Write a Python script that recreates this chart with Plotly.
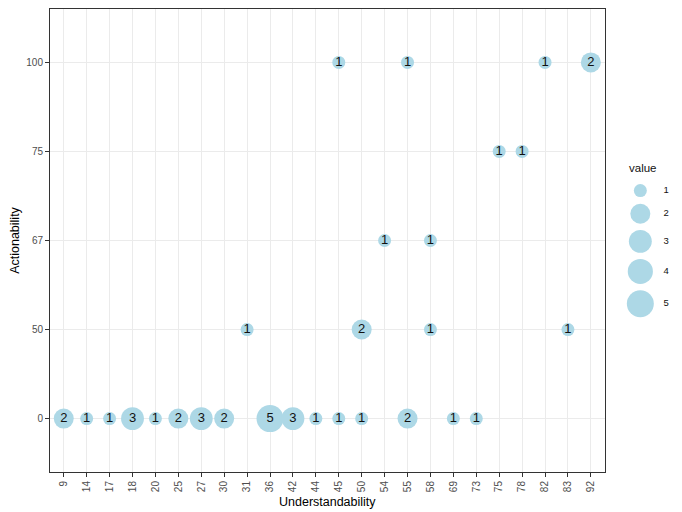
import math
import plotly.graph_objects as go

# ---- data ----
x_categories = ["9", "14", "17", "18", "20", "25", "27", "30", "31", "36", "42", "44",
                "45", "50", "54", "55", "58", "69", "73", "75", "78", "82", "83", "92"]
y_categories = ["0", "50", "67", "75", "100"]

understandability = ["9", "14", "17", "18", "20", "25", "27", "30", "36", "42", "44", "45",
                     "50", "55", "69", "73",
                     "31", "50", "58", "83",
                     "54", "58",
                     "75", "78",
                     "45", "55", "82", "92"]
actionability = ["0"] * 16 + ["50"] * 4 + ["67"] * 2 + ["75"] * 2 + ["100"] * 4
counts = [2, 1, 1, 3, 1, 2, 3, 2, 5, 3, 1, 1, 1, 2, 1, 1,
          1, 2, 1, 1,
          1, 1,
          1, 1,
          1, 1, 1, 2]

legend_values = [1, 2, 3, 4, 5]

# ---- styling ----
OFF = 8                      # page body margin
W, H = 682 - OFF, 512 - OFF
ML, MR, MT, MB = 45 - OFF, 0, 0, 40
plot_w = W - ML - MR
panel_right = 604 - OFF
main_dom_end = (panel_right - ML) / plot_w
leg_dom_start = main_dom_end + 0.005

BUBBLE = "#ADD8E6"
FONT = "Liberation Sans, Arial, Helvetica, sans-serif"
vmin, vmax = min(legend_values), max(legend_values)


def diam(v):
    return 13 + 14 * math.sqrt((v - vmin) / (vmax - vmin))


fig = go.Figure()
fig.add_trace(go.Scatter(
    x=understandability, y=actionability, mode="markers+text",
    text=[str(c) for c in counts],
    textfont=dict(family=FONT, size=13, color="#111111"),
    textposition="middle center",
    marker=dict(size=[diam(c) for c in counts], color=BUBBLE, line=dict(width=0), opacity=1),
    opacity=1,
    cliponaxis=False, showlegend=False, hoverinfo="skip",
))

# ---- legend drawn on a page-pixel-scaled auxiliary axis ----
x2_left = OFF + ML + leg_dom_start * plot_w
x2_right = OFF + ML + plot_w
key_x = 640
label_x = 666
title_y = 167
ys = []
y = 190
for i, v in enumerate(legend_values):
    if i > 0:
        y += (max(diam(legend_values[i - 1]), 14) + max(diam(v), 14)) / 2 + 6.2
    ys.append(y)

fig.add_trace(go.Scatter(
    x=[key_x] * len(legend_values), y=ys, xaxis="x2", yaxis="y2", mode="markers",
    marker=dict(size=[diam(v) for v in legend_values], color=BUBBLE, line=dict(width=0),
                opacity=1),
    opacity=1,
    cliponaxis=False, showlegend=False, hoverinfo="skip",
))
fig.add_trace(go.Scatter(
    x=[label_x] * len(legend_values), y=ys, xaxis="x2", yaxis="y2", mode="text",
    text=[str(v) for v in legend_values],
    textfont=dict(family=FONT, size=9.5, color="#111111"),
    cliponaxis=False, showlegend=False, hoverinfo="skip",
))
fig.add_annotation(x=627, y=title_y, xref="x2", yref="y2", text="value",
                   showarrow=False, xanchor="left", yanchor="middle",
                   font=dict(family=FONT, size=11.5, color="#111111"))

axis_common = dict(
    showline=True, linecolor="#333333", linewidth=1, mirror=True,
    ticks="outside", ticklen=4, tickcolor="#333333", tickwidth=1,
    showgrid=True, gridcolor="#EBEBEB", gridwidth=1, zeroline=False,
    tickfont=dict(family=FONT, size=10, color="#4D4D4D"),
)

fig.update_layout(
    width=W, height=H,
    margin=dict(l=ML, r=MR, t=MT, b=MB, pad=0),
    paper_bgcolor="white", plot_bgcolor="white",
    font=dict(family=FONT),
    xaxis=dict(axis_common, type="category", categoryorder="array",
               categoryarray=x_categories, range=[-0.6, len(x_categories) - 0.4],
               domain=[0, main_dom_end], tickangle=-90,
               title=dict(text="Understandability", standoff=6,
                          font=dict(family=FONT, size=12.5, color="black"))),
    yaxis=dict(axis_common, type="category", categoryorder="array",
               categoryarray=y_categories, range=[-0.6, len(y_categories) - 0.4],
               domain=[0, 1],
               title=dict(text="Actionability", standoff=10,
                          font=dict(family=FONT, size=12.5, color="black"))),
    xaxis2=dict(domain=[leg_dom_start, 1], range=[x2_left, x2_right], anchor="y2",
                visible=False, fixedrange=True),
    yaxis2=dict(domain=[0, 1], range=[OFF + H - MB, OFF + MT], anchor="x2",
                visible=False, fixedrange=True),
)

fig.write_html("out.html")
